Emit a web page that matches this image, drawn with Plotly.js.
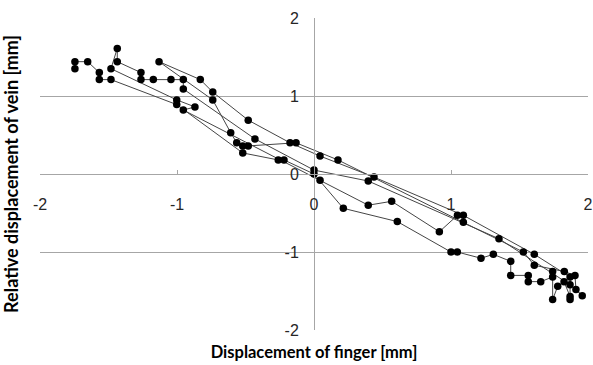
<!DOCTYPE html>
<html><head><meta charset="utf-8">
<script src="https://cdn.plot.ly/plotly-3.0.1.min.js"></script>
<style>html,body{margin:0;padding:0;background:#fff}#chart{width:593px;height:365px}</style>
</head><body><div id="chart"></div>
<script>
// Displacement of finger [mm] (x) and relative displacement of vein [mm] (y), in recording order
const fingerDisp = [
  -1.745,-1.745,-1.652,-1.567,-1.567,-1.482,-1.002,-0.520,-0.261,-0.219,0.000,0.214,0.608,1.000,1.046,1.219,1.309,1.436,1.436,1.564,1.564,1.655,1.742,1.742,1.742,1.779,1.825,1.869,1.869,1.869,1.608,1.090,0.438,0.044,-0.175,-0.480,-0.739,-0.830,-1.131,
  -0.739,-0.608,-0.564,-0.520,-0.480,-0.131,0.175,1.090,1.528,1.608,1.827,1.905,1.912,1.958,1.869,1.350,0.396,0.000,-0.431,-0.954,-0.954,-1.044,-1.173,-1.263,-1.263,-1.436,-1.436,-1.482,
  -1.002,-0.869,-0.954,0.044,0.396,0.567,0.915,1.047
];
const veinDisp = [
  1.35,1.44,1.44,1.30,1.21,1.21,0.89,0.27,0.18,0.18,0.00,-0.44,-0.61,-1.00,-1.00,-1.08,-1.03,-1.12,-1.30,-1.30,-1.38,-1.38,-1.32,-1.25,-1.61,-1.44,-1.38,-1.57,-1.61,-1.32,-1.03,-0.53,-0.04,0.23,0.40,0.69,1.05,1.21,1.44,
  0.95,0.53,0.40,0.36,0.36,0.40,0.18,-0.62,-1.00,-1.17,-1.25,-1.30,-1.48,-1.56,-1.42,-0.83,-0.09,0.05,0.45,1.09,1.21,1.21,1.21,1.21,1.30,1.44,1.61,1.35,
  0.95,0.86,0.82,-0.08,-0.40,-0.35,-0.74,-0.53
];
const tickVals = [-2,-1,0,1,2];
const tickText = ['-2','-1','0','1','2'];
const xTitle = 'Displacement of finger [mm]';
const yTitle = 'Relative displacement of vein [mm]';

const gridCol = '#a6a6a6';
const tickFont = {family:'Liberation Sans, Arial, sans-serif', size:16, color:'#262626'};
const xTitleFont = {family:'Lato, Calibri, sans-serif', size:16.5, color:'#000', weight:'bold'};
const yTitleFont = {family:'Lato, Calibri, sans-serif', size:18, color:'#000', weight:'bold'};

const traces = [
  {x: fingerDisp, y: veinDisp, type:'scatter', mode:'lines+markers',
   line:{color:'#454545', width:1}, marker:{color:'#000', size:7.5},
   xaxis:'x', yaxis:'y', showlegend:false, hoverinfo:'skip'},
  {x:[null], y:[null], type:'scatter', mode:'markers', xaxis:'x2', yaxis:'y2', showlegend:false, hoverinfo:'skip'}
];

const layout = {
  width:593, height:365,
  margin:{l:40, r:5, t:18, b:35},
  paper_bgcolor:'#fff', plot_bgcolor:'#fff',
  showlegend:false,
  xaxis:{range:[-2,2], domain:[0,1], showgrid:false, zeroline:false, showline:false,
         showticklabels:false, ticks:'', fixedrange:true, automargin:true,
         title:{text:xTitle, font:xTitleFont, standoff:16}},
  yaxis:{range:[-2,2], domain:[0,1], showgrid:true, gridcolor:gridCol, gridwidth:1,
         tickvals:tickVals, zeroline:false, showline:false,
         showticklabels:false, ticks:'', fixedrange:true, automargin:true,
         title:{text:yTitle, font:yTitleFont, standoff:16}},
  xaxis2:{range:[-2,2], overlaying:'x', anchor:'free', position:0.5, side:'bottom',
          showgrid:false, zeroline:false, showline:true, linecolor:gridCol, linewidth:1,
          ticks:'inside', ticklen:4, tickcolor:gridCol, tickvals:tickVals, ticktext:tickText,
          tickfont:tickFont, ticklabelstandoff:16, fixedrange:true},
  yaxis2:{range:[-2,2], overlaying:'y', anchor:'free', position:0.5, side:'left',
          showgrid:false, zeroline:false, showline:true, linecolor:gridCol, linewidth:1,
          ticks:'', tickvals:tickVals, ticktext:tickText,
          tickfont:tickFont, ticklabelstandoff:12, fixedrange:true}
};
Plotly.newPlot('chart', traces, layout, {staticPlot:true, displayModeBar:false});
</script></body></html>
